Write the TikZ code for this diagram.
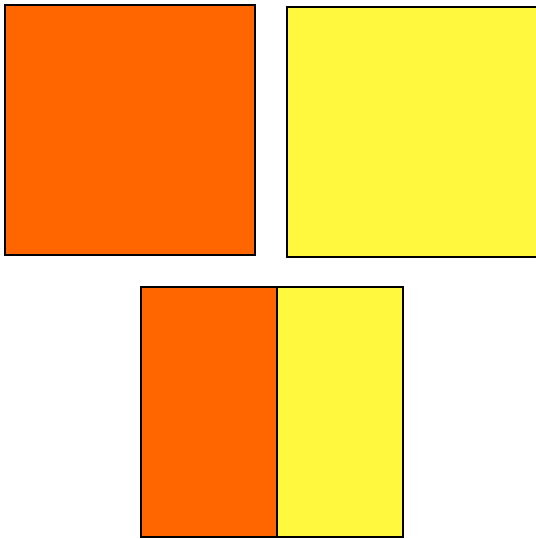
\documentclass[tikz,border=0pt]{standalone}
\definecolor{myorange}{HTML}{FF6600}
\definecolor{myyellow}{HTML}{FFF83E}
\begin{document}
\begin{tikzpicture}[x=1pt,y=-1pt,
  sq/.style={draw=black,line width=1.6pt,line join=miter}]
\useasboundingbox (0,0) rectangle (536,539);
\filldraw[sq,fill=myorange] (5,5) rectangle (255,255);
\filldraw[sq,fill=myyellow] (287,7) rectangle (538,257);
\filldraw[sq,fill=myorange] (141,287) rectangle (277,537);
\filldraw[sq,fill=myyellow] (277,287) rectangle (403,537);
\end{tikzpicture}
\end{document}
